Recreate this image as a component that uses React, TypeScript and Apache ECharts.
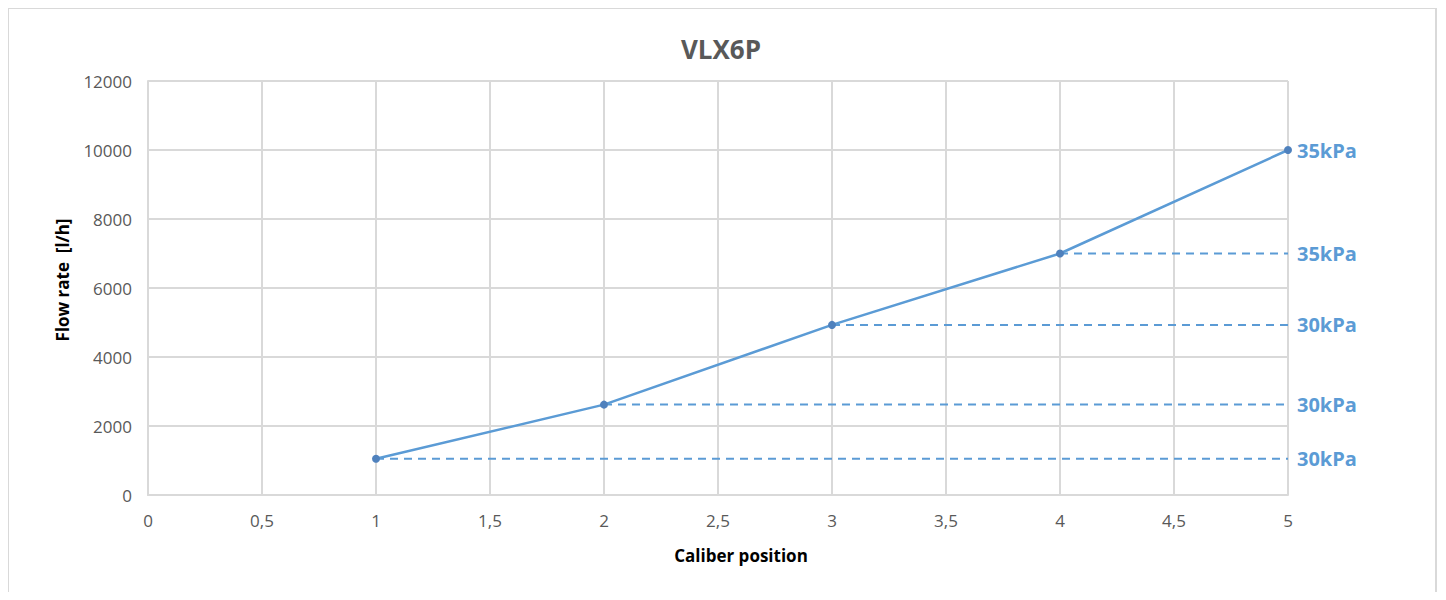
import React, { useEffect, useRef } from "react";
import * as echarts from "echarts";

const positions = [1, 2, 3, 4, 5];
const flowRates = [1050, 2620, 4930, 7000, 10000];
const pressureLabels = ["30kPa", "30kPa", "30kPa", "35kPa", "35kPa"];
const titleText = "VLX6P";
const xName = "Caliber position";
const yName = "Flow rate  [l/h]";

const BLUE = "#5b9bd5";
const GRID = "#d9d9d9";
const TEXT = "#595959";
const FONT = "'Open Sans', 'Noto Sans', sans-serif";

export default function App() {
  const ref = useRef<HTMLDivElement>(null);
  useEffect(() => {
    if (!ref.current) return;
    const chart = echarts.init(ref.current, undefined, { renderer: "svg" });
    const xMax = positions[positions.length - 1];
    const dashed = positions.slice(0, -1).map((p, i) => ({
      type: "line",
      data: [
        [p, flowRates[i]],
        [xMax, flowRates[i]],
      ],
      symbol: "none",
      silent: true,
      lineStyle: { color: BLUE, width: 2, type: [8, 6] },
      z: 2,
    }));
    chart.setOption({
      animation: false,
      textStyle: { fontFamily: FONT },
      title: {
        text: titleText,
        left: 708,
        top: 23,
        textAlign: "center",
        textStyle: { fontFamily: FONT, fontSize: 26, fontWeight: "bold", color: TEXT },
      },
      graphic: [
        {
          type: "rect",
          shape: { x: 0, y: 0, width: 1428, height: 620 },
          style: { fill: "none", stroke: GRID, lineWidth: 2 },
          silent: true,
        },
        {
          type: "text",
          x: 54,
          y: 272,
          rotation: Math.PI / 2,
          style: {
            text: yName,
            fontFamily: FONT,
            fontSize: 17,
            fontWeight: "bold",
            fill: "#000",
            align: "center",
            verticalAlign: "middle",
          },
        },
        {
          type: "text",
          x: 733,
          y: 547,
          style: {
            text: xName,
            fontFamily: FONT,
            fontSize: 17,
            fontWeight: "bold",
            fill: "#000",
            align: "center",
            verticalAlign: "middle",
          },
        },
      ],
      grid: { left: 140, right: 150, top: 73, bottom: 97 },
      xAxis: {
        type: "value",
        min: 0,
        max: 5,
        interval: 0.5,
        axisLine: { show: true, lineStyle: { color: GRID, width: 2 } },
        axisTick: { show: false },
        splitLine: { show: true, lineStyle: { color: GRID, width: 2 } },
        axisLabel: {
          color: TEXT,
          fontSize: 17,
          fontFamily: FONT,
          margin: 17,
          formatter: (v: number) => String(v).replace(".", ","),
        },
      },
      yAxis: {
        type: "value",
        min: 0,
        max: 12000,
        interval: 2000,
        axisLine: { show: true, lineStyle: { color: GRID, width: 2 } },
        axisTick: { show: false },
        splitLine: { show: true, lineStyle: { color: GRID, width: 2 } },
        axisLabel: {
          color: TEXT,
          fontSize: 17,
          fontFamily: FONT,
          margin: 16,
          formatter: (v: number) => String(v),
        },
      },
      series: [
        ...dashed,
        {
          type: "line",
          data: positions.map((p, i) => [p, flowRates[i]]),
          symbol: "circle",
          symbolSize: 8,
          itemStyle: { color: "#4f81bd" },
          lineStyle: { color: BLUE, width: 2.5 },
          z: 3,
        },
        {
          type: "scatter",
          data: flowRates.map((f) => [xMax, f]),
          symbolSize: 0,
          silent: true,
          itemStyle: { opacity: 1, color: BLUE },
          label: {
            show: true,
            position: "right",
            distance: 9,
            formatter: (p: any) => pressureLabels[p.dataIndex],
            color: BLUE,
            opacity: 1,
            fontFamily: FONT,
            fontSize: 20,
            fontWeight: "bold",
          },
          z: 4,
        },
      ],
    });
    return () => chart.dispose();
  }, []);
  return <div ref={ref} style={{ width: 1430, height: 584 }} />;
}
